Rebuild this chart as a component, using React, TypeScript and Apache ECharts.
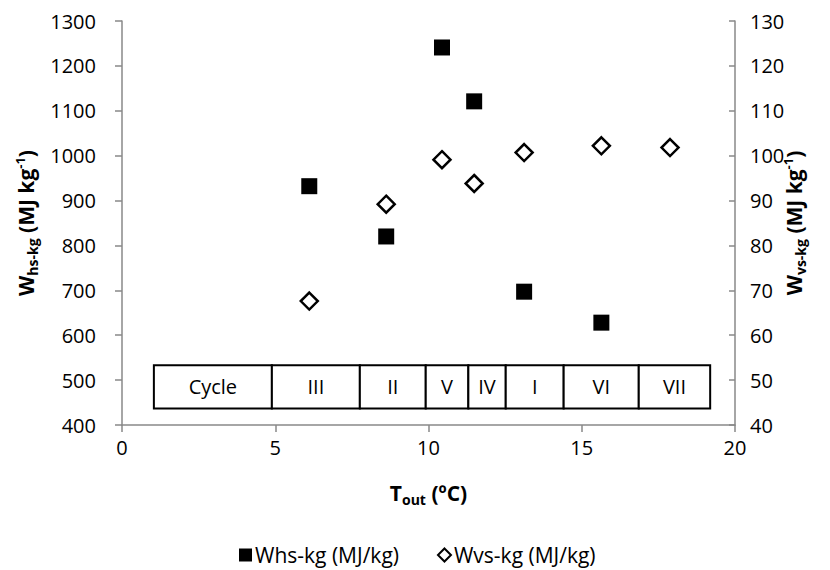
import React, { useEffect, useRef } from "react";
import * as echarts from "echarts";

// ---- data ----
const whsX = [6.11, 8.62, 10.44, 11.49, 13.12, 15.64];
const whsValues = [932, 820, 1241, 1121, 697, 628];
const wvsX = [6.11, 8.62, 10.44, 11.49, 13.12, 15.64, 17.88];
const wvsValues = [67.6, 89.2, 99.1, 93.8, 100.7, 102.2, 101.8];
const cycleLabels = ["Cycle", "III", "II", "V", "IV", "I", "VI", "VII"];
const xTicks = [0, 5, 10, 15, 20];
const leftTicks = [400, 1300, 100];
const rightTicks = [40, 130, 10];

// ---- layout of the cycle strip (in axis units) ----
const cycleEdges = [1.04, 4.89, 7.76, 9.91, 11.3, 12.52, 14.41, 16.86, 19.19];
const tableTop = 533;
const tableBottom = 437;

const FONT = '"Open Sans", "Liberation Sans", sans-serif';
const AXIS_GRAY = "#898989";
const TXT = "#000";

export default function App() {
  const ref = useRef<HTMLDivElement>(null);
  useEffect(() => {
    if (!ref.current) return;
    const chart = echarts.init(ref.current, undefined, { renderer: "svg" });
    const richName = {
      b: { fontSize: 21, fontWeight: "bold", fontFamily: FONT, color: TXT, lineHeight: 26 },
      s: { fontSize: 14, fontWeight: "bold", fontFamily: FONT, color: TXT, lineHeight: 13, verticalAlign: "bottom" },
      p: { fontSize: 13, fontWeight: "bold", fontFamily: FONT, color: TXT, lineHeight: 13, verticalAlign: "top" },
    };
    const plain = (v: number) => String(v);
    const tableData = cycleLabels.map((l, i) => [cycleEdges[i], cycleEdges[i + 1], i]);
    chart.setOption({
      animation: false,
      backgroundColor: "#fff",
      grid: { left: 122, right: 95, top: 21, bottom: 145, containLabel: false },
      legend: {
        data: ["Whs-kg (MJ/kg)", "Wvs-kg (MJ/kg)"],
        left: 234,
        top: 538,
        padding: 5,
        itemWidth: 13,
        itemHeight: 13,
        itemGap: 38,
        textStyle: { fontSize: 21, fontFamily: FONT, color: TXT, lineHeight: 24, padding: [0, 0, 0, -2] },
      },
      xAxis: {
        type: "value",
        min: xTicks[0],
        max: xTicks[xTicks.length - 1],
        interval: xTicks[1] - xTicks[0],
        name: "{b|T}{s|out}{b| (ºC)}",
        nameLocation: "middle",
        nameGap: 55,
        nameTextStyle: { rich: richName },
        axisLine: { show: true, lineStyle: { color: AXIS_GRAY, width: 1.5 } },
        axisTick: { show: true, length: 7, lineStyle: { color: AXIS_GRAY, width: 1.5 } },
        axisLabel: { fontSize: 20, fontFamily: FONT, color: TXT, margin: 12, formatter: plain },
        splitLine: { show: false },
      },
      yAxis: [
        {
          type: "value",
          position: "left",
          min: leftTicks[0],
          max: leftTicks[1],
          interval: leftTicks[2],
          name: "{b|W}{s|hs-kg}{b| (MJ kg}{p|-1}{b|)}",
          nameLocation: "middle",
          nameRotate: 90,
          nameGap: 78,
          nameTextStyle: { rich: richName },
          axisLine: { show: true, lineStyle: { color: AXIS_GRAY, width: 1.5 } },
          axisTick: { show: true, length: 7, lineStyle: { color: AXIS_GRAY, width: 1.5 } },
          axisLabel: { fontSize: 20, fontFamily: FONT, color: TXT, margin: 26, formatter: plain },
          splitLine: { show: false },
        },
        {
          type: "value",
          position: "right",
          min: rightTicks[0],
          max: rightTicks[1],
          interval: rightTicks[2],
          name: "{b|W}{s|vs-kg}{b| (MJ kg}{p|-1}{b|)}",
          nameLocation: "middle",
          nameRotate: 90,
          nameGap: 46,
          nameMoveOverlap: false,
          nameTextStyle: { rich: richName },
          axisLine: { show: true, lineStyle: { color: AXIS_GRAY, width: 1.5 } },
          axisTick: { show: true, inside: true, length: 6, lineStyle: { color: AXIS_GRAY, width: 1.5 } },
          axisLabel: { fontSize: 20, fontFamily: FONT, color: TXT, margin: 15, formatter: plain },
          splitLine: { show: false },
        },
      ],
      series: [
        {
          name: "cycles",
          type: "custom",
          xAxisIndex: 0,
          yAxisIndex: 0,
          silent: true,
          z: 1,
          data: tableData,
          renderItem: (params: any, api: any) => {
            const p0 = api.coord([api.value(0), tableTop]);
            const p1 = api.coord([api.value(1), tableBottom]);
            return {
              type: "group",
              children: [
                {
                  type: "rect",
                  shape: { x: p0[0], y: p0[1], width: p1[0] - p0[0], height: p1[1] - p0[1] },
                  style: { fill: "#fff", stroke: "#000", lineWidth: 2 },
                },
                {
                  type: "text",
                  style: {
                    text: cycleLabels[api.value(2)],
                    x: (p0[0] + p1[0]) / 2,
                    y: (p0[1] + p1[1]) / 2,
                    align: "center",
                    verticalAlign: "middle",
                    fontSize: 20,
                    fontFamily: FONT,
                    fill: TXT,
                  },
                },
              ],
            };
          },
        },
        {
          name: "Whs-kg (MJ/kg)",
          type: "scatter",
          yAxisIndex: 0,
          symbol: "rect",
          symbolSize: 16,
          z: 3,
          itemStyle: { color: "#000", opacity: 1 },
          data: whsX.map((x, i) => [x, whsValues[i]]),
        },
        {
          name: "Wvs-kg (MJ/kg)",
          type: "scatter",
          yAxisIndex: 1,
          symbol: "diamond",
          symbolSize: 17,
          z: 3,
          itemStyle: { color: "#fff", borderColor: "#000", borderWidth: 2.5, opacity: 1 },
          data: wvsX.map((x, i) => [x, wvsValues[i]]),
        },
      ],
    });
    return () => chart.dispose();
  }, []);
  return (
    <div
      ref={ref}
      style={{ position: "fixed", left: 0, top: 0, width: 830, height: 570, background: "#fff" }}
    />
  );
}
